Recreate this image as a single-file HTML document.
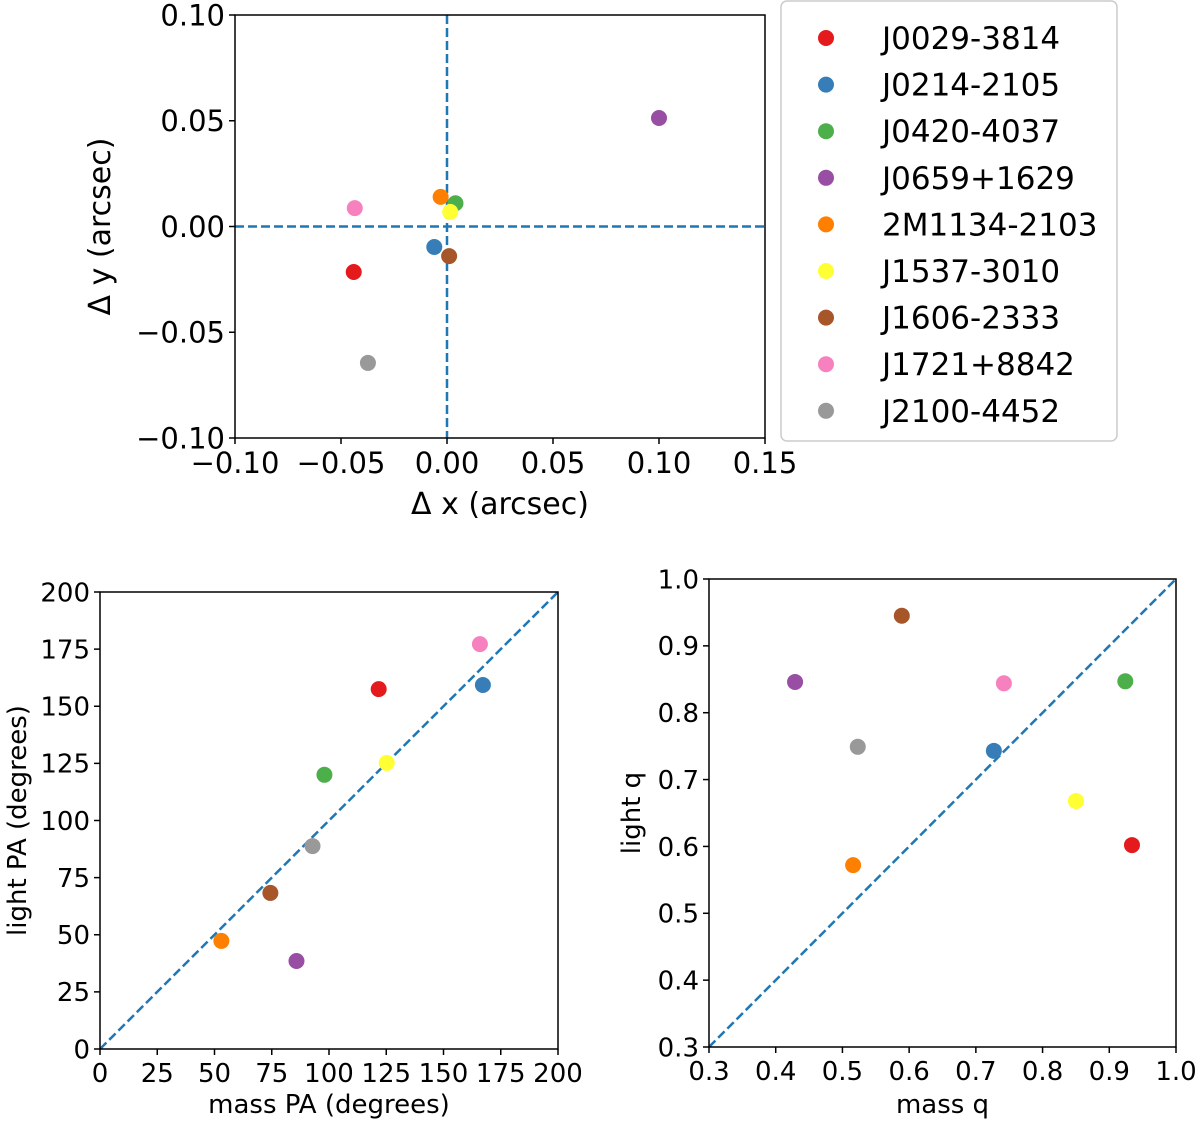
<!DOCTYPE html>
<html><head><meta charset="utf-8"><style>
body{margin:0;background:#fff}
svg{display:block;font-family:"DejaVu Sans","Liberation Sans",sans-serif}
</style></head><body>
<svg id="c" width="1200" height="1124" viewBox="0 0 1200 1124"></svg>
<script>
const names=["J0029-3814","J0214-2105","J0420-4037","J0659+1629","2M1134-2103","J1537-3010","J1606-2333","J1721+8842","J2100-4452"];
const colors=["#e41a1c","#377eb8","#4daf4a","#984ea3","#ff7f00","#ffff33","#a65628","#f781bf","#999999"];
const dx=[-0.044,-0.006,0.004,0.100,-0.003,0.0015,0.001,-0.0435,-0.0373];
const dy=[-0.0215,-0.0097,0.011,0.0513,0.014,0.0069,-0.014,0.0087,-0.0645];
const massPA=[121.7,167.2,98,85.8,53,125.2,74.4,165.9,92.8];
const lightPA=[157.5,159.3,120,38.5,47.3,125.2,68.3,177.2,88.8];
const massQ=[0.934,0.727,0.924,0.429,0.516,0.850,0.589,0.742,0.523];
const lightQ=[0.602,0.743,0.847,0.846,0.572,0.668,0.945,0.844,0.749];
const ticksTopX=["−0.10","−0.05","0.00","0.05","0.10","0.15"], ticksTopXv=[-0.1,-0.05,0,0.05,0.1,0.15];
const ticksTopYv=[-0.1,-0.05,0,0.05,0.1], ticksTopY=["−0.10","−0.05","0.00","0.05","0.10"];
const ticksPA=[0,25,50,75,100,125,150,175,200];
const ticksQ=[0.3,0.4,0.5,0.6,0.7,0.8,0.9,1.0];
const svg=document.getElementById('c');const NS="http://www.w3.org/2000/svg";
function el(t,a,p){const e=document.createElementNS(NS,t);for(const k in a)e.setAttribute(k,a[k]);(p||svg).appendChild(e);return e;}
function panel(id,L,T,R,B,x0,x1,y0,y1,xt,xl,yt,yl,fs,xlab,ylab,lfs,xs,ys,diag,cross,xTitleY,yTitleX){
  const g=el('g',{});
  const X=v=>L+(v-x0)/(x1-x0)*(R-L), Y=v=>B-(v-y0)/(y1-y0)*(B-T);
  if(cross){
    const a=el('line',{x1:X(0),x2:X(0),y1:T,y2:B,stroke:'#1f77b4','stroke-width':2.5,'stroke-dasharray':'9,4'},g);
    const b=el('line',{x1:L,x2:R,y1:Y(0),y2:Y(0),stroke:'#1f77b4','stroke-width':2.5,'stroke-dasharray':'9,4'},g);
  }
  if(diag){const d=el('line',{x1:X(x0),y1:Y(y0),x2:X(x1),y2:Y(y1),stroke:'#1f77b4','stroke-width':2.5,'stroke-dasharray':'9,4'},g);}
  for(let i=0;i<xs.length;i++){const c=el('circle',{cx:X(xs[i]),cy:Y(ys[i]),r:8,fill:colors[i]},g);}
  const f=el('rect',{x:L,y:T,width:R-L,height:B-T,fill:'none',stroke:'#000','stroke-width':1.5},g);
  xt.forEach((v,i)=>{el('line',{x1:X(v),x2:X(v),y1:B,y2:B+6,stroke:'#000','stroke-width':1.5},g);
    const t=el('text',{x:X(v),y:B+fs*0.73+14,'font-size':fs,'text-anchor':'middle'},g);t.textContent=xl[i];});
  yt.forEach((v,i)=>{el('line',{x1:L-6,x2:L,y1:Y(v),y2:Y(v),stroke:'#000','stroke-width':1.5},g);
    const t=el('text',{x:L-10,y:Y(v)+fs*0.36,'font-size':fs,'text-anchor':'end'},g);t.textContent=yl[i];});
  const xa=el('text',{x:(L+R)/2,y:xTitleY,'font-size':lfs,'text-anchor':'middle'},g);xa.textContent=xlab;
  const ya=el('text',{x:yTitleX,y:(T+B)/2,'font-size':lfs,'text-anchor':'middle',transform:`rotate(-90 ${yTitleX} ${(T+B)/2})`},g);ya.textContent=ylab;
}
panel('offset-plot',235,15,765,438,-0.1,0.15,-0.1,0.1,ticksTopXv,ticksTopX,ticksTopYv,ticksTopY,29,'Δ x (arcsec)','Δ y (arcsec)',30,dx,dy,false,true,514,110);
panel('pa-plot',100,592,558,1049,0,200,0,200,ticksPA,ticksPA.map(String),ticksPA,ticksPA.map(String),26,'mass PA (degrees)','light PA (degrees)',26,massPA,lightPA,true,false,1113,26);
panel('q-plot',709,579,1176,1047,0.3,1.0,0.3,1.0,ticksQ,ticksQ.map(v=>v.toFixed(1)),ticksQ,ticksQ.map(v=>v.toFixed(1)),26,'mass q','light q',26,massQ,lightQ,true,false,1113,640);
const lg=el('g',{});
el('rect',{x:781,y:1,width:336,height:440,rx:6,fill:'#fff',stroke:'#ccc','stroke-width':1.5},lg);
names.forEach((n,i)=>{const y=38+i*46.6;
  const c=el('circle',{cx:826,cy:y,r:8,fill:colors[i]},lg);
  const t=el('text',{x:882,y:y+11,'font-size':31},lg);t.textContent=n;});
</script>
</body></html>
